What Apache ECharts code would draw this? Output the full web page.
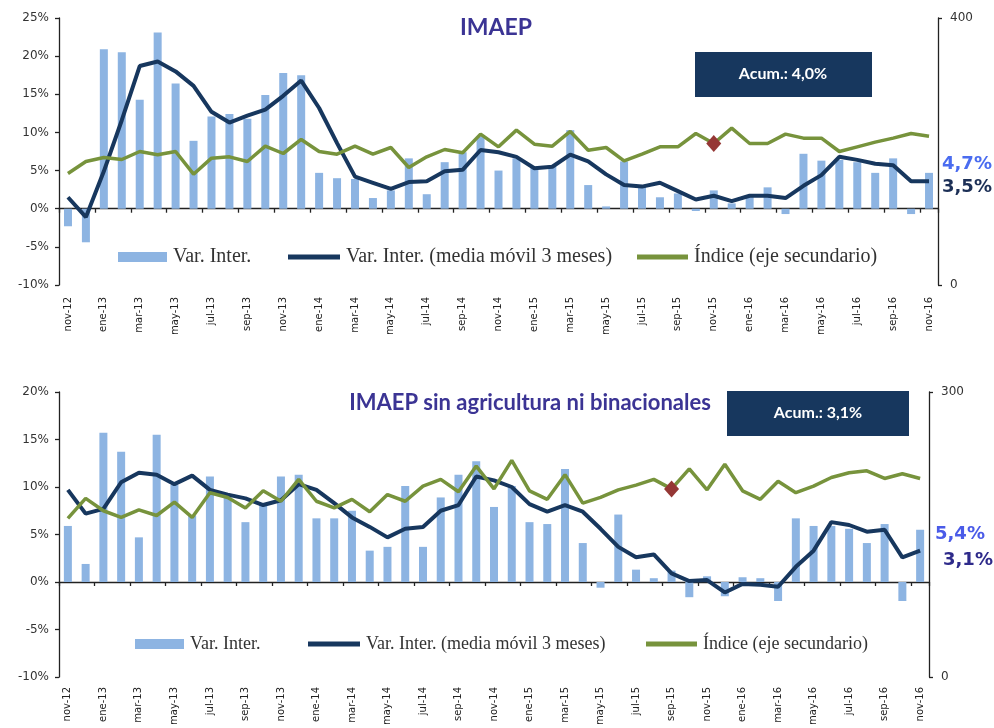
<!DOCTYPE html>
<html>
<head>
<meta charset="utf-8">
<script src="https://cdn.jsdelivr.net/npm/echarts@6/dist/echarts.min.js"></script>
<style>
html,body{margin:0;padding:0;background:#fff;}
#c{width:994px;height:728px;}
</style>
</head>
<body>
<div id="c"></div>
<script>
const categories = ['nov-12','dic-12','ene-13','feb-13','mar-13','abr-13','may-13','jun-13','jul-13','ago-13','sep-13','oct-13','nov-13','dic-13','ene-14','feb-14','mar-14','abr-14','may-14','jun-14','jul-14','ago-14','sep-14','oct-14','nov-14','dic-14','ene-15','feb-15','mar-15','abr-15','may-15','jun-15','jul-15','ago-15','sep-15','oct-15','nov-15','dic-15','ene-16','feb-16','mar-16','abr-16','may-16','jun-16','jul-16','ago-16','sep-16','oct-16','nov-16'];

// Panel 1: IMAEP
const topVar = [-2.3,-4.4,20.9,20.5,14.3,23.1,16.4,8.9,12.1,12.4,11.8,14.9,17.8,17.5,4.7,4.0,3.9,1.4,2.4,6.6,1.9,6.1,7.4,9.5,5.0,6.6,5.4,5.6,10.3,3.1,0.3,6.2,2.9,1.5,2.0,-0.3,2.4,0.7,1.8,2.8,-0.7,7.2,6.3,6.4,6.1,4.7,6.6,-0.7,4.7];
const topMA = [1.5,-1.1,4.9,11.6,18.7,19.3,18.0,16.1,12.7,11.3,12.2,13.0,14.8,16.8,13.2,8.6,4.2,3.4,2.6,3.5,3.6,4.9,5.1,7.7,7.4,6.8,5.3,5.5,7.1,6.2,4.5,3.1,2.9,3.4,2.3,1.2,1.7,1.0,1.7,1.7,1.4,3.0,4.4,6.8,6.4,5.9,5.7,3.6,3.6];
const topIdx = [167,185,191,188,200,195,200,166,190,192,185,208,197,218,200,196,208,196,206,176,192,203,198,226,207,232,211,208,230,202,206,186,196,207,207,227,212,235,212,212,226,220,220,200,207,214,220,227,223];
const topMarkIndex = 36;
const topTitle = 'IMAEP';
const topAcum = 'Acum.: 4,0%';
const topEndVar = '4,7%';
const topEndMA = '3,5%';
const topLeftTicks = [-10, 25, 5];
const topRightTicks = [0, 400, 400];

// Panel 2: IMAEP sin agricultura ni binacionales
const botVar = [5.9,1.9,15.7,13.7,4.7,15.5,10.2,7.0,11.1,9.0,6.3,8.3,11.1,11.3,6.7,6.7,7.5,3.3,3.7,10.1,3.7,8.9,11.3,12.7,7.9,10.1,6.3,6.1,11.9,4.1,-0.6,7.1,1.3,0.4,1.2,-1.6,0.6,-1.5,0.5,0.4,-2.0,6.7,5.9,5.9,5.6,4.1,6.1,-2.0,5.5];
const botMA = [9.7,7.2,7.7,10.5,11.5,11.3,10.3,11.2,9.7,9.2,8.8,8.1,8.6,10.3,9.7,8.3,6.8,5.8,4.7,5.6,5.8,7.5,8.1,11.1,10.7,10.0,8.2,7.4,8.1,7.4,5.6,3.7,2.6,2.9,0.9,0.1,0.2,-1.1,-0.2,-0.3,-0.5,1.6,3.3,6.3,6.0,5.3,5.5,2.6,3.3];
const botIdx = [167,188,175,168,176,170,184,168,194,189,178,196,185,208,185,178,187,174,192,185,201,208,195,222,198,228,196,187,213,183,189,197,202,208,198,219,197,224,196,187,206,194,201,210,215,217,209,214,209];
const botMarkIndex = 34;
const botTitle = 'IMAEP sin agricultura ni binacionales';
const botAcum = 'Acum.: 3,1%';
const botEndVar = '5,4%';
const botEndMA = '3,1%';
const botLeftTicks = [-10, 20, 5];
const botRightTicks = [0, 300, 300];

const legendNames = ['Var. Inter.', 'Var. Inter. (media móvil 3 meses)', 'Índice (eje secundario)'];

const C_BAR = '#8db4e2', C_NAVY = '#17375e', C_GREEN = '#77933c', C_RED = '#953735';
const C_TITLE = '#3b3494';

const chart = echarts.init(document.getElementById('c'), null, {renderer: 'canvas'});

function xAxesFor(gridIndex, yIndex, labelMargin) {
  return [
    {
      type: 'category', gridIndex, data: categories, boundaryGap: true,
      axisLine: {show: true, onZero: true, onZeroAxisIndex: yIndex, lineStyle: {color: '#222', width: 1.3}},
      axisTick: {show: true, interval: 1, length: 4, inside: false, lineStyle: {color: '#222', width: 1.3}},
      axisLabel: {show: false}, splitLine: {show: false}
    },
    {
      type: 'category', gridIndex, data: categories, boundaryGap: true, position: 'bottom',
      axisLine: {show: false, onZero: false}, axisTick: {show: false},
      axisLabel: {show: true, interval: 1, rotate: 90, margin: labelMargin, fontFamily: 'DejaVu Sans', fontSize: 10, color: '#222'},
      splitLine: {show: false}
    }
  ];
}

function yAxesFor(gridIndex, left, right) {
  return [
    {
      type: 'value', gridIndex, position: 'left', min: left[0], max: left[1], interval: left[2],
      axisLine: {show: true, lineStyle: {color: '#222', width: 1.3}},
      axisTick: {show: true, length: 4, lineStyle: {color: '#222', width: 1.3}},
      axisLabel: {formatter: '{value}%', fontFamily: 'DejaVu Sans', fontSize: 12, color: '#333', margin: 10},
      splitLine: {show: false}
    },
    {
      type: 'value', gridIndex, position: 'right', min: right[0], max: right[1], interval: right[2],
      axisLine: {show: true, lineStyle: {color: '#222', width: 1.3}},
      axisTick: {show: true, length: 4, lineStyle: {color: '#222', width: 1.3}},
      axisLabel: {fontFamily: 'DejaVu Sans', fontSize: 12, color: '#333', margin: 12},
      splitLine: {show: false}
    }
  ];
}

function seriesFor(xi, yi, vars, ma, idx, markIdx) {
  return [
    {
      name: legendNames[0], type: 'bar', xAxisIndex: xi, yAxisIndex: yi, data: vars,
      barWidth: 8, itemStyle: {color: C_BAR}, z: 2
    },
    {
      name: legendNames[1], type: 'line', xAxisIndex: xi, yAxisIndex: yi, data: ma,
      symbol: 'none', smooth: false, lineStyle: {color: C_NAVY, width: 4}, itemStyle: {color: C_NAVY}, z: 3
    },
    {
      name: legendNames[2], type: 'line', xAxisIndex: xi, yAxisIndex: yi + 1, data: idx,
      symbol: 'none', lineStyle: {color: C_GREEN, width: 3.5}, itemStyle: {color: C_GREEN}, z: 4,
      markPoint: {
        symbol: 'diamond', symbolSize: [15, 17], silent: true,
        itemStyle: {color: C_RED},
        label: {show: false},
        data: [{coord: [markIdx, idx[markIdx]]}]
      }
    }
  ];
}

function legendsFor(top, lefts, fontSize) {
  const base = {orient: 'horizontal', top, padding: 0, itemGap: 0, selectedMode: false,
    textStyle: {fontFamily: 'Liberation Serif', fontSize, color: '#333', padding: [0, 0, 0, 1]}};
  return [
    Object.assign({}, base, {left: lefts[0], data: [{name: legendNames[0], icon: 'rect', itemStyle: {color: C_BAR}}], itemWidth: 49, itemHeight: 10}),
    Object.assign({}, base, {left: lefts[1], data: [{name: legendNames[1], icon: 'rect', itemStyle: {color: C_NAVY}}], itemWidth: 52, itemHeight: 5}),
    Object.assign({}, base, {left: lefts[2], data: [{name: legendNames[2], icon: 'rect', itemStyle: {color: C_GREEN}}], itemWidth: 51, itemHeight: 5})
  ];
}

const graphics = [
  {type: 'text', x: 496, y: 28, style: {text: topTitle, font: 'bold 23px Lato', fill: C_TITLE, textAlign: 'center', textVerticalAlign: 'middle'}},
  {type: 'text', x: 530, y: 403, style: {text: botTitle, font: 'bold 22px Lato', fill: C_TITLE, textAlign: 'center', textVerticalAlign: 'middle'}},
  {type: 'rect', shape: {x: 695, y: 52, width: 177, height: 45}, style: {fill: '#17375e'}},
  {type: 'text', x: 783, y: 74, style: {text: topAcum, font: 'bold 16px Lato', fill: '#ffffff', textAlign: 'center', textVerticalAlign: 'middle'}},
  {type: 'rect', shape: {x: 727, y: 391, width: 182, height: 45}, style: {fill: '#17375e'}},
  {type: 'text', x: 818, y: 413, style: {text: botAcum, font: 'bold 16px Lato', fill: '#ffffff', textAlign: 'center', textVerticalAlign: 'middle'}},
  {type: 'text', x: 942, y: 164, style: {text: topEndVar, font: 'bold 18px "DejaVu Sans"', fill: '#4a6cf0', textAlign: 'left', textVerticalAlign: 'middle'}},
  {type: 'text', x: 942, y: 187, style: {text: topEndMA, font: 'bold 18px "DejaVu Sans"', fill: '#1c2f56', textAlign: 'left', textVerticalAlign: 'middle'}},
  {type: 'text', x: 935, y: 534, style: {text: botEndVar, font: 'bold 18px "DejaVu Sans"', fill: '#4a5be8', textAlign: 'left', textVerticalAlign: 'middle'}},
  {type: 'text', x: 943, y: 560, style: {text: botEndMA, font: 'bold 18px "DejaVu Sans"', fill: '#2e2a8a', textAlign: 'left', textVerticalAlign: 'middle'}}
];

const option = {
  animation: false,
  backgroundColor: '#ffffff',
  grid: [
    {left: 59, right: 56, top: 18, bottom: 443, containLabel: false},
    {left: 59, right: 65, top: 392, bottom: 51, containLabel: false}
  ],
  xAxis: [].concat(xAxesFor(0, 0, 12), xAxesFor(1, 2, 10)),
  yAxis: [].concat(yAxesFor(0, topLeftTicks, topRightTicks), yAxesFor(1, botLeftTicks, botRightTicks)),
  legend: [].concat(legendsFor(247, [118, 288, 637], 20), legendsFor(635, [135, 308, 646], 18)),
  series: [].concat(seriesFor(0, 0, topVar, topMA, topIdx, topMarkIndex), seriesFor(2, 2, botVar, botMA, botIdx, botMarkIndex)),
  graphic: graphics
};
chart.setOption(option);
</script>
</body>
</html>
